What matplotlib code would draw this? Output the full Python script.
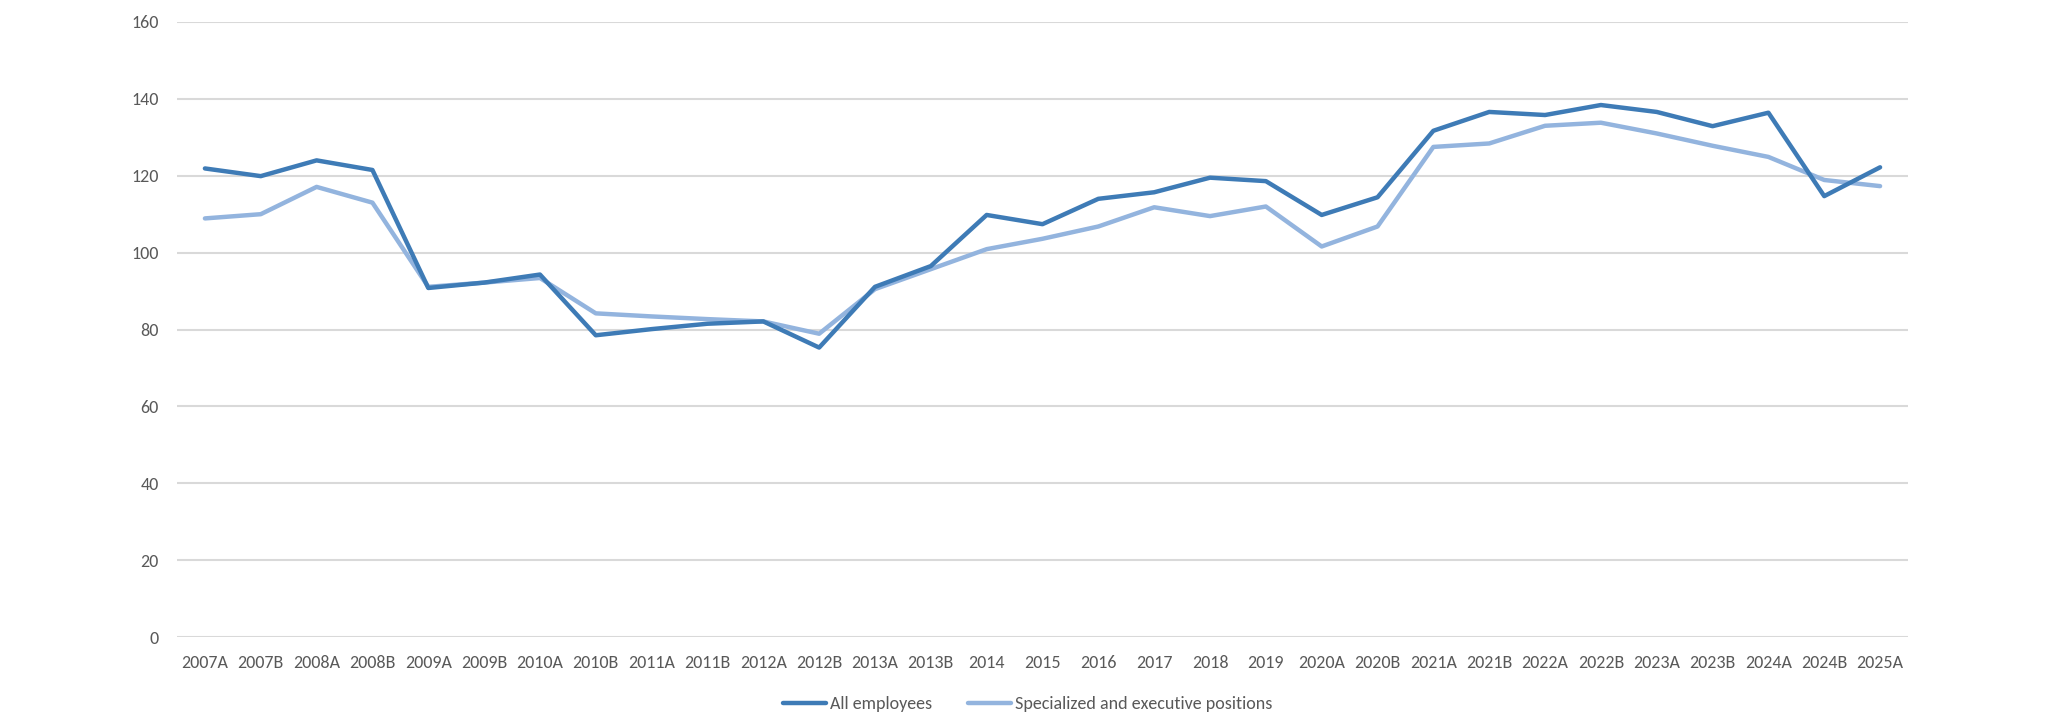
#!/usr/bin/env python3
# Wage index chart: all employees vs specialized/executive positions.

import matplotlib
matplotlib.use("Agg")
import matplotlib.pyplot as plt
from matplotlib import font_manager

periods = [
    "2007A", "2007B", "2008A", "2008B", "2009A", "2009B", "2010A", "2010B",
    "2011A", "2011B", "2012A", "2012B", "2013A", "2013B", "2014", "2015",
    "2016", "2017", "2018", "2019", "2020A", "2020B", "2021A", "2021B",
    "2022A", "2022B", "2023A", "2023B", "2024A", "2024B", "2025A",
]
all_employees = [
    121.9, 119.9, 124.0, 121.5, 90.8, 92.2, 94.3, 78.5,
    80.1, 81.5, 82.1, 75.3, 91.1, 96.5, 109.8, 107.4,
    114.0, 115.7, 119.5, 118.6, 109.8, 114.4, 131.7, 136.6,
    135.8, 138.4, 136.6, 132.9, 136.4, 114.7, 122.2,
]
specialized = [
    108.9, 110.0, 117.1, 113.0, 91.1, 92.2, 93.4, 84.2,
    83.4, 82.7, 82.1, 78.9, 90.5, 95.7, 100.9, 103.6,
    106.8, 111.8, 109.5, 112.0, 101.6, 106.8, 127.5, 128.4,
    133.0, 133.8, 131.0, 127.8, 124.9, 118.9, 117.3,
]
y_ticks = [0, 20, 40, 60, 80, 100, 120, 140, 160]

COLORS = {
    "all": "#3E7BB6",
    "spec": "#93B4DE",
    "grid": "#D9D9D9",
    "text": "#595959",
}

installed = {f.name for f in font_manager.fontManager.ttflist}
family = [f for f in ["Carlito", "Lato", "Open Sans"] if f in installed] + ["DejaVu Sans"]
plt.rcParams["font.family"] = family

W, H, DPI = 2048, 728, 100
fig = plt.figure(figsize=(W / DPI, H / DPI), dpi=DPI)
ax = fig.add_axes([177 / W, 1 - 637 / H, (1908 - 177) / W, (637 - 22) / H])

x = list(range(len(periods)))
ax.plot(x, all_employees, color=COLORS["all"], linewidth=3.2,
        solid_capstyle="round", label="All employees", zorder=3)
ax.plot(x, specialized, color=COLORS["spec"], linewidth=3.2,
        solid_capstyle="round", label="Specialized and executive positions", zorder=2)

ax.set_xlim(-0.5, len(periods) - 0.5)
ax.set_ylim(0, 160)
ax.set_yticks(y_ticks)
ax.set_xticks(x)
ax.set_xticklabels(periods)
ax.yaxis.grid(True, color=COLORS["grid"], linewidth=1.5)
ax.set_axisbelow(True)
for s in ax.spines.values():
    s.set_visible(False)
ax.tick_params(axis="both", length=0, labelsize=13, labelcolor=COLORS["text"])
ax.tick_params(axis="x", pad=13)
ax.tick_params(axis="y", pad=13)

fig.legend(loc="center", bbox_to_anchor=(0.5017, 1 - 704 / H), ncol=2,
           frameon=False, fontsize=13, handlelength=2.4, handletextpad=0.2,
           columnspacing=2.0, labelcolor=COLORS["text"])

fig.savefig("out.png", dpi=DPI)
